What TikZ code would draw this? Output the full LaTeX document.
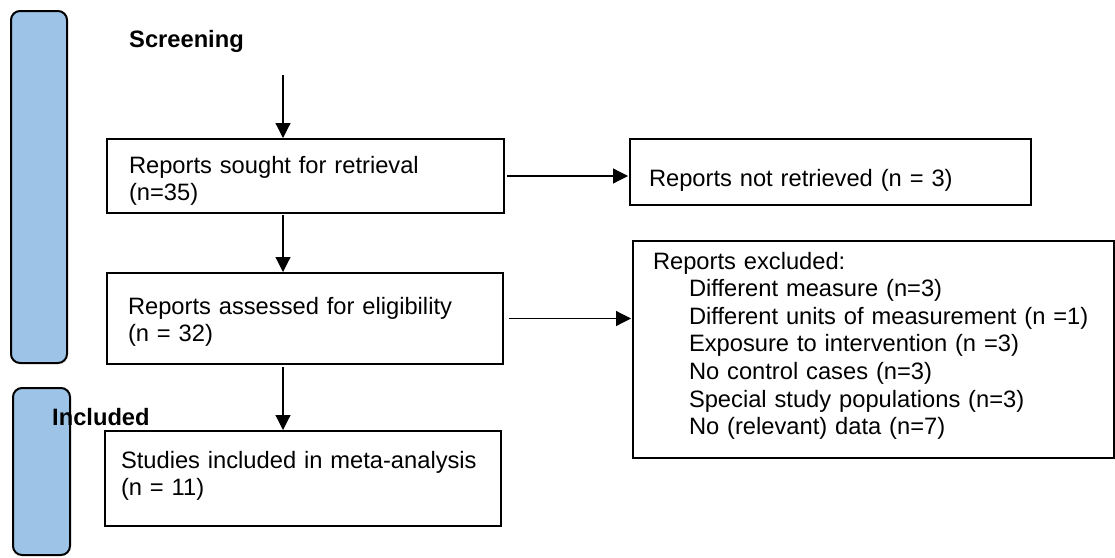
\documentclass[tikz,border=0pt]{standalone}
\usepackage{fontspec}
\setmainfont{Liberation Sans}
\usetikzlibrary{arrows.meta}
\definecolor{barblue}{RGB}{157,195,230}
\tikzset{
  pbox/.style={draw=black, line width=2pt, anchor=north west, align=left,
     inner ysep=0pt, font=\fontsize{23.7pt}{27pt}\selectfont},
  bar/.style={draw=black, line width=2pt, fill=barblue, rounded corners=9pt},
  flow/.style={line width=1.2pt, -{Triangle[length=15pt,width=15pt]}},
  head/.style={font=\fontsize{23.7pt}{27pt}\selectfont\bfseries, inner sep=0pt, anchor=base west}
}
\begin{document}
\begin{tikzpicture}[x=1pt,y=-1pt]
\useasboundingbox (0,0) rectangle (1115,557);
% side bars
\draw[bar] (11,11) rectangle (67,363);
\draw[bar] (13,388) rectangle (70,555);
% headings
\node[head] (screening) at (129,47) {Screening};
\node[head] (included) at (52,425) {Included};
% boxes
\node[pbox, inner xsep=22pt, text width=353pt, text height=34pt, text depth=40pt] (b1) at (106,138)
  {Reports sought for retrieval\\(n=35)};
\node[pbox, inner xsep=21pt, text width=354pt, text height=41pt, text depth=50pt] (b2) at (106,272)
  {Reports assessed for eligibility\\(n = 32)};
\node[pbox, inner xsep=16pt, text width=364pt, text height=37pt, text depth=58pt] (b3) at (104,430)
  {Studies included in meta-analysis\\(n = 11)};
\node[pbox, inner xsep=19pt, text width=363pt, text height=47pt, text depth=19pt] (b4) at (629,138)
  {Reports not retrieved (n = 3)};
\node[pbox, inner xsep=20pt, text width=441pt, text height=28pt, text depth=189pt,
      font=\fontsize{23.7pt}{27.6pt}\selectfont] (b5) at (632,240)
  {Reports excluded:\\
   \hspace*{36pt}Different measure (n=3)\\
   \hspace*{36pt}Different units of measurement (n =1)\\
   \hspace*{36pt}Exposure to intervention (n =3)\\
   \hspace*{36pt}No control cases (n=3)\\
   \hspace*{36pt}Special study populations (n=3)\\
   \hspace*{36pt}No (relevant) data (n=7)};
% arrows
\coordinate (ax) at (283,0);
\coordinate (start) at (283,75);
\draw[flow] (start) -- (b1.north -| ax);
\draw[flow, shorten <=1pt] (b1.south -| ax) -- (b2.north -| ax);
\draw[flow, shorten <=2pt] (b2.south -| ax) -- (b3.north -| ax);
\draw[flow, shorten <=2pt, shorten >=1pt] (b1.east) -- (b4.west |- b1.east);
\draw[flow, shorten <=5pt, shorten >=1pt] (b2.east) -- (b5.west |- b2.east);
\end{tikzpicture}
\end{document}
